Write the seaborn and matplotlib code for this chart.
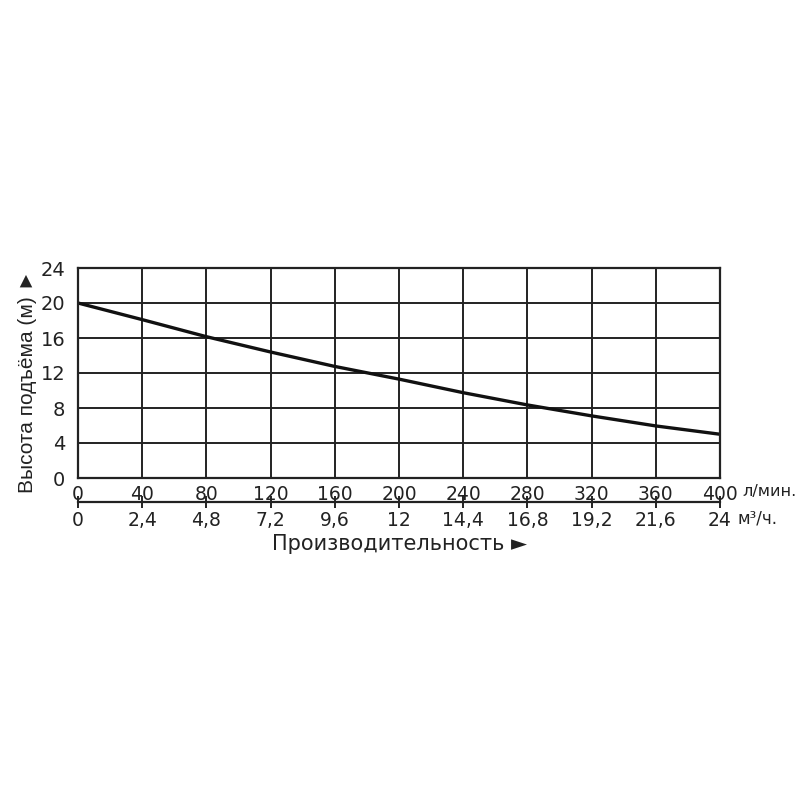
import matplotlib
matplotlib.use("Agg")
import matplotlib.pyplot as plt
import seaborn as sns
import pandas as pd

flow_lpm = [0, 40, 80, 120, 160, 200, 240, 280, 320, 360, 400]
head_m = [20.0, 18.1, 16.15, 14.4, 12.75, 11.3, 9.75, 8.35, 7.1, 5.95, 5.0]
x_ticks_lpm = [0, 40, 80, 120, 160, 200, 240, 280, 320, 360, 400]
x_ticks_m3h = ["0", "2,4", "4,8", "7,2", "9,6", "12", "14,4", "16,8", "19,2", "21,6", "24"]
y_ticks = [0, 4, 8, 12, 16, 20, 24]

sns.set_style("white")
plt.rcParams['font.family'] = ['DejaVu Sans']

df = pd.DataFrame({"flow": flow_lpm, "head": head_m})

fig = plt.figure(figsize=(8, 8), dpi=100)
ax = fig.add_axes([0.0975, 0.4025, 0.8025, 0.2625])
sns.lineplot(data=df, x="flow", y="head", ax=ax, color="#111111", linewidth=2.4)

ax.set_xlim(0, 400)
ax.set_ylim(0, 24)
ax.set_xticks(x_ticks_lpm)
ax.set_yticks(y_ticks)
ax.grid(True, color="#222222", linewidth=1.4)
for s in ax.spines.values():
    s.set_visible(True)
    s.set_color("#222222")
    s.set_linewidth(1.6)
ax.tick_params(axis="x", length=0, pad=5, labelsize=13.5, colors="#222222")
ax.tick_params(axis="y", length=0, pad=9, labelsize=14, colors="#222222")
ax.set_xlabel("")
ax.set_ylabel("Высота подъёма (м) ►", fontsize=15, color="#222222",
              family=['Liberation Sans', 'DejaVu Sans'])
ax.yaxis.set_label_coords(-0.064, 0.46)

sec = ax.secondary_xaxis(-0.114)
sec.set_xticks(x_ticks_lpm)
sec.set_xticklabels(x_ticks_m3h)
sec.tick_params(axis="x", direction="inout", length=9, width=1.4, pad=2,
                labelsize=13.5, colors="#222222")
sec.spines["bottom"].set_linewidth(1.6)
sec.spines["bottom"].set_color("#222222")
sec.set_xlabel("Производительность ►", fontsize=15, color="#222222", labelpad=3)

fig.text(0.928, 0.386, "л/мин.", fontsize=11.5, color="#222222", va="center", ha="left")
fig.text(0.922, 0.352, "м³/ч.", fontsize=12, color="#222222", va="center", ha="left")

fig.savefig("out.png", dpi=100, facecolor="white")
